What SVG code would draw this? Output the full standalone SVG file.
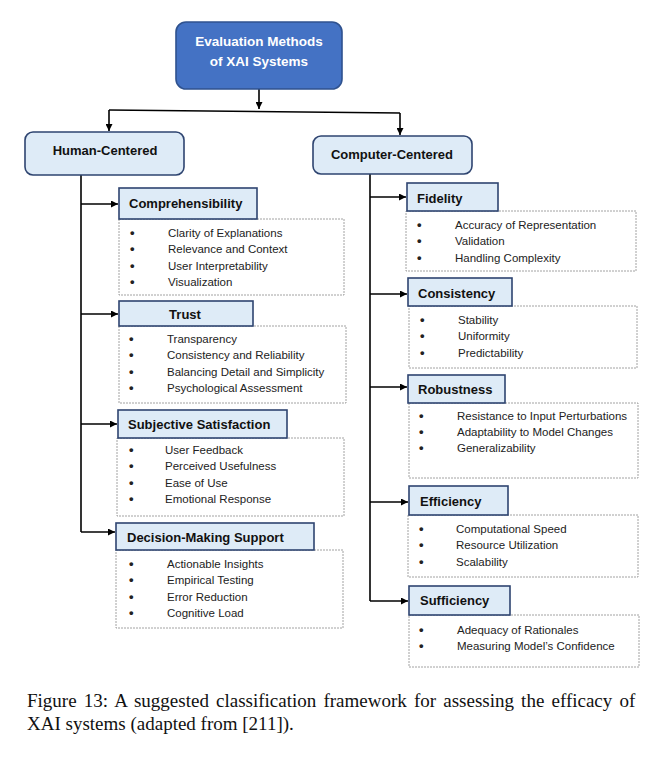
<svg xmlns="http://www.w3.org/2000/svg" width="653" height="769" viewBox="0 0 653 769">
<style>
.hd{fill:#DEEBF7;stroke:#2E4470;stroke-width:1.6}
.it{fill:#fff;stroke:#8c8c8c;stroke-width:0.8;stroke-dasharray:2 1}
.ht{font-family:"Liberation Sans",Arial,sans-serif;font-weight:bold;font-size:13px;fill:#111}
.tx{font-family:"Liberation Sans",Arial,sans-serif;font-size:11.5px;fill:#222}
.bu{font-size:13px;font-weight:bold}
.ln{stroke:#000;stroke-width:1.6;fill:none}
.cap{font-family:"Liberation Serif","Times New Roman",serif;font-size:19px;fill:#111}
</style>
<defs>
<marker id="ah" viewBox="0 0 10 10" refX="10" refY="5" markerWidth="7" markerHeight="7" markerUnits="userSpaceOnUse" orient="auto">
<path d="M0,0 L10,5 L0,10 z" fill="#000"/>
</marker>
</defs>
<rect width="653" height="769" fill="#fff"/>

<g id="connectors">
<path class="ln" d="M259,89 V109" marker-end="url(#ah)"/>
<path class="ln" d="M109,110 L400,113"/>
<path class="ln" d="M109,110 V131" marker-end="url(#ah)"/>
<path class="ln" d="M400,113 V135" marker-end="url(#ah)"/>
<path class="ln" d="M81,175 V532"/>
<path class="ln" d="M81,204 H118" marker-end="url(#ah)"/>
<path class="ln" d="M81,314 H118" marker-end="url(#ah)"/>
<path class="ln" d="M81,424 H117" marker-end="url(#ah)"/>
<path class="ln" d="M81,532 H115" marker-end="url(#ah)"/>
<path class="ln" d="M370,174 V601"/>
<path class="ln" d="M370,197 H406" marker-end="url(#ah)"/>
<path class="ln" d="M370,294 H407" marker-end="url(#ah)"/>
<path class="ln" d="M370,387 H407" marker-end="url(#ah)"/>
<path class="ln" d="M370,502 H408" marker-end="url(#ah)"/>
<path class="ln" d="M370,601 H408" marker-end="url(#ah)"/>
</g>

<g id="root">
<rect x="176" y="22" width="166" height="67" rx="10" fill="#4472C4" stroke="#2F528F" stroke-width="1.6"/>
<text x="259" y="46" text-anchor="middle" font-family="Liberation Sans, Arial, sans-serif" font-weight="bold" font-size="13.5" fill="#fff">Evaluation Methods</text>
<text x="259" y="66" text-anchor="middle" font-family="Liberation Sans, Arial, sans-serif" font-weight="bold" font-size="13.5" fill="#fff">of XAI Systems</text>
</g>

<g id="human-centered">
<rect class="hd" x="25" y="132" width="159" height="43" rx="8"/>
<text class="ht" x="105" y="155" text-anchor="middle">Human-Centered</text>
</g>

<g id="computer-centered">
<rect class="hd" x="313" y="136" width="159" height="38" rx="8"/>
<text class="ht" x="392" y="159" text-anchor="middle">Computer-Centered</text>
</g>

<g id="comprehensibility">
<rect class="it" x="119" y="219" width="225" height="76"/>
<rect class="hd" x="119" y="188" width="138" height="31"/>
<text class="ht" x="129" y="208">Comprehensibility</text>
<g class="tx">
<text class="bu" x="130" y="237">•</text><text x="168" y="237">Clarity of Explanations</text>
<text class="bu" x="130" y="253">•</text><text x="168" y="253">Relevance and Context</text>
<text class="bu" x="130" y="270">•</text><text x="168" y="270">User Interpretability</text>
<text class="bu" x="130" y="286">•</text><text x="168" y="286">Visualization</text>
</g>
</g>

<g id="trust">
<rect class="it" x="119" y="326" width="227" height="77"/>
<rect class="hd" x="119" y="301" width="134" height="25"/>
<text class="ht" x="185" y="319" text-anchor="middle">Trust</text>
<g class="tx">
<text class="bu" x="129" y="343">•</text><text x="167" y="343">Transparency</text>
<text class="bu" x="129" y="359">•</text><text x="167" y="359">Consistency and Reliability</text>
<text class="bu" x="129" y="376">•</text><text x="167" y="376">Balancing Detail and Simplicity</text>
<text class="bu" x="129" y="392">•</text><text x="167" y="392">Psychological Assessment</text>
</g>
</g>

<g id="subjective-satisfaction">
<rect class="it" x="117" y="438" width="227" height="78"/>
<rect class="hd" x="118" y="410" width="169" height="28"/>
<text class="ht" x="128" y="429">Subjective Satisfaction</text>
<g class="tx">
<text class="bu" x="129" y="454">•</text><text x="165" y="454">User Feedback</text>
<text class="bu" x="129" y="470">•</text><text x="165" y="470">Perceived Usefulness</text>
<text class="bu" x="129" y="487">•</text><text x="165" y="487">Ease of Use</text>
<text class="bu" x="129" y="503">•</text><text x="165" y="503">Emotional Response</text>
</g>
</g>

<g id="decision-making-support">
<rect class="it" x="116" y="550" width="227" height="78"/>
<rect class="hd" x="116" y="523" width="198" height="27"/>
<text class="ht" x="127" y="542">Decision-Making Support</text>
<g class="tx">
<text class="bu" x="129" y="568">•</text><text x="167" y="568">Actionable Insights</text>
<text class="bu" x="129" y="584">•</text><text x="167" y="584">Empirical Testing</text>
<text class="bu" x="129" y="601">•</text><text x="167" y="601">Error Reduction</text>
<text class="bu" x="129" y="617">•</text><text x="167" y="617">Cognitive Load</text>
</g>
</g>

<g id="fidelity">
<rect class="it" x="406" y="211" width="230" height="60"/>
<rect class="hd" x="407" y="183" width="91" height="28"/>
<text class="ht" x="417" y="203">Fidelity</text>
<g class="tx">
<text class="bu" x="417" y="229">•</text><text x="455" y="229">Accuracy of Representation</text>
<text class="bu" x="417" y="245">•</text><text x="455" y="245">Validation</text>
<text class="bu" x="417" y="262">•</text><text x="455" y="262">Handling Complexity</text>
</g>
</g>

<g id="consistency">
<rect class="it" x="409" y="306" width="228" height="62"/>
<rect class="hd" x="408" y="278" width="104" height="28"/>
<text class="ht" x="418" y="298">Consistency</text>
<g class="tx">
<text class="bu" x="420" y="324">•</text><text x="458" y="324">Stability</text>
<text class="bu" x="420" y="340">•</text><text x="458" y="340">Uniformity</text>
<text class="bu" x="420" y="357">•</text><text x="458" y="357">Predictability</text>
</g>
</g>

<g id="robustness">
<rect class="it" x="409" y="403" width="229" height="75"/>
<rect class="hd" x="408" y="375" width="97" height="28"/>
<text class="ht" x="418" y="394">Robustness</text>
<g class="tx">
<text class="bu" x="419" y="420">•</text><text x="457" y="420">Resistance to Input Perturbations</text>
<text class="bu" x="419" y="436">•</text><text x="457" y="436">Adaptability to Model Changes</text>
<text class="bu" x="419" y="452">•</text><text x="457" y="452">Generalizability</text>
</g>
</g>

<g id="efficiency">
<rect class="it" x="408" y="515" width="230" height="62"/>
<rect class="hd" x="409" y="486" width="99" height="29"/>
<text class="ht" x="420" y="506">Efficiency</text>
<g class="tx">
<text class="bu" x="419" y="533">•</text><text x="456" y="533">Computational Speed</text>
<text class="bu" x="419" y="549">•</text><text x="456" y="549">Resource Utilization</text>
<text class="bu" x="419" y="566">•</text><text x="456" y="566">Scalability</text>
</g>
</g>

<g id="sufficiency">
<rect class="it" x="409" y="615" width="230" height="52"/>
<rect class="hd" x="409" y="586" width="101" height="29"/>
<text class="ht" x="420" y="605">Sufficiency</text>
<g class="tx">
<text class="bu" x="419" y="634">•</text><text x="457" y="634">Adequacy of Rationales</text>
<text class="bu" x="419" y="650">•</text><text x="457" y="650">Measuring Model’s Confidence</text>
</g>
</g>

<g id="caption">
<text class="cap" x="27" y="707" word-spacing="2.4">Figure 13: A suggested classification framework for assessing the efficacy of</text>
<text class="cap" x="27" y="730">XAI systems (adapted from [211]).</text>
</g>
</svg>
